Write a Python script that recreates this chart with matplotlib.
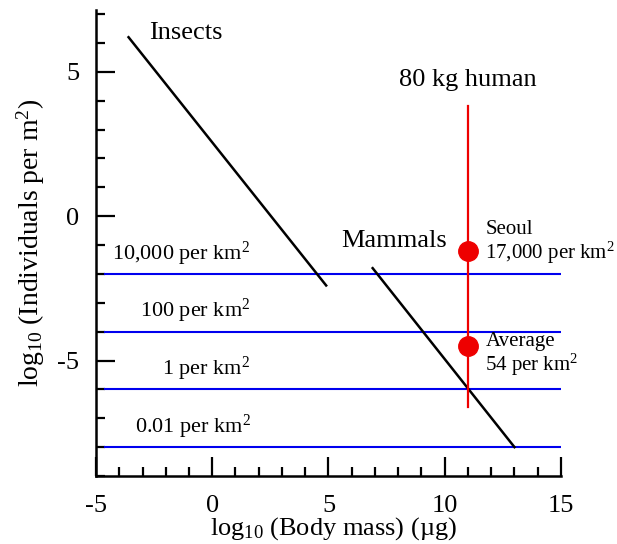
import matplotlib
matplotlib.use("Agg")
from matplotlib import pyplot as plt
from matplotlib.ticker import MultipleLocator

plt.rcParams['font.family'] = ['Liberation Serif', 'DejaVu Serif']
plt.rcParams['mathtext.fontset'] = 'custom'
plt.rcParams['mathtext.rm'] = 'Liberation Serif'
plt.rcParams['mathtext.it'] = 'Liberation Serif:italic'

# Data
insects_x = [-3.6, 4.9]
insects_y = [6.2, -2.4]
mammals_x = [6.9, 13.0]
mammals_y = [-1.8, -8.0]

density_levels = [-2, -4, -6, -8]
density_labels = ['10,000 per km$^2$', '100 per km$^2$', '1 per km$^2$', '0.01 per km$^2$']

human_x = 11
human_range = [3.8, -6.6]
human_points = [-1.2, -4.5]
human_labels = ['Seoul\n17,000 per km$^2$', 'Average\n54 per km$^2$']
label_shift = [0.27, -0.3]

fig = plt.figure(figsize=(6.17, 5.44), dpi=100)
ax = fig.add_axes([0.1556, 0.125, 0.7536, 0.857])

# Density reference lines
for lvl, lab in zip(density_levels, density_labels):
    ax.plot([-4.6, 15], [lvl, lvl], color='#0000ee', lw=1.5)
    ax.text(1.65, lvl + 0.22, lab, ha='right', va='bottom', fontsize=16)

# Insects and mammals
ax.plot(insects_x, insects_y, color='black', lw=1.8)
ax.plot(mammals_x, mammals_y, color='black', lw=1.8)
ax.text(-2.7, 6.35, 'Insects', fontsize=19, va='center')
ax.text(5.55, -0.87, 'Mammals', fontsize=19, va='center')

# Human
ax.plot([human_x, human_x], human_range, color='#ee0000', lw=1.6)
ax.plot([human_x] * len(human_points), human_points, 'o', color='#ee0000',
        markersize=14)
for yv, lab, sh in zip(human_points, human_labels, label_shift):
    ax.text(human_x + 0.75, yv + sh, lab, fontsize=15, va='center',
            linespacing=1.05)
ax.text(human_x, 4.72, '80 kg human', fontsize=19, ha='center', va='center')

ax.set_xlim(-5, 15)
ax.set_ylim(-9, 7.15)
ax.xaxis.set_major_locator(MultipleLocator(5))
ax.xaxis.set_minor_locator(MultipleLocator(1))
ax.yaxis.set_major_locator(MultipleLocator(5))
ax.yaxis.set_minor_locator(MultipleLocator(1))
ax.tick_params(which='major', direction='in', length=13.5, width=1.6,
               labelsize=19)
ax.tick_params(which='minor', direction='in', length=6.5, width=1.6)
ax.tick_params(axis='x', which='major', pad=14)
ax.tick_params(axis='y', which='major', pad=12)
ax.set_xticks([-5, 0, 5, 10, 15])
ax.set_xticklabels(['-5', '0', '5', '10', '15'])
ax.set_yticks([-5, 0, 5])
ax.set_yticklabels(['-5', '0', '5'])

for s in ['top', 'right']:
    ax.spines[s].set_visible(False)
for s in ['left', 'bottom']:
    ax.spines[s].set_linewidth(1.8)

ax.set_xlabel(r'log$_{10}$ (Body mass) (µg)', fontsize=19)
ax.set_ylabel(r'log$_{10}$ (Individuals per m$^2$)', fontsize=20)
ax.xaxis.set_label_coords(0.51, -0.085)
ax.yaxis.set_label_coords(-0.105, 0.5)

fig.savefig('out.png', dpi=100)
